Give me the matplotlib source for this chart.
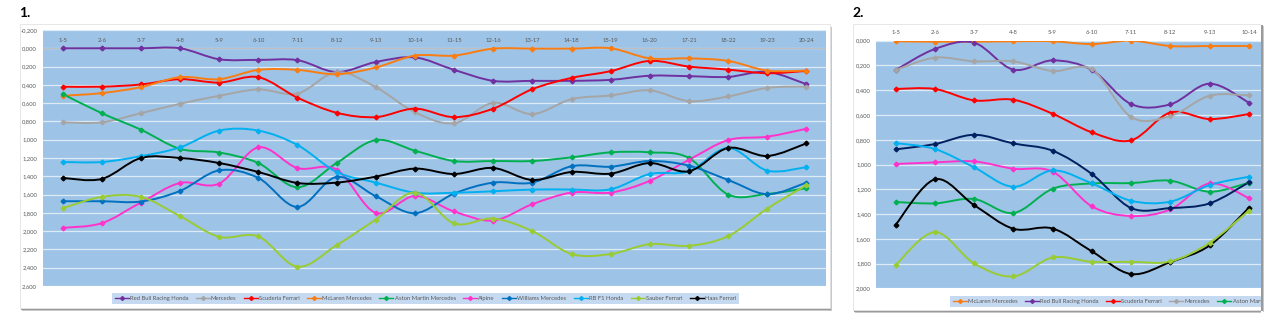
import numpy as np
import matplotlib
matplotlib.use("Agg")
import matplotlib.pyplot as plt
from matplotlib.path import Path
from matplotlib.patches import PathPatch, Rectangle
from matplotlib.lines import Line2D

plt.rcParams['font.family'] = ['Lato', 'DejaVu Sans']

# ---------------- data ----------------
cats1 = ["1-5", "2-6", "3-7", "4-8", "5-9", "6-10", "7-11", "8-12", "9-13", "10-14",
         "11-15", "12-16", "13-17", "14-18", "15-19", "16-20", "17-21", "18-22", "19-23", "20-24"]
cats2 = cats1[:10]

redbull_1 = [0.00, 0.00, 0.00, 0.00, 0.12, 0.127, 0.13, 0.26, 0.15, 0.10,
             0.236, 0.356, 0.356, 0.356, 0.345, 0.30, 0.305, 0.313, 0.258, 0.393]
mercedes_1 = [0.81, 0.81, 0.71, 0.607, 0.52, 0.45, 0.495, 0.26, 0.425, 0.70,
              0.82, 0.596, 0.72, 0.556, 0.516, 0.46, 0.578, 0.527, 0.433, 0.418]
ferrari_1 = [0.42, 0.42, 0.396, 0.338, 0.375, 0.316, 0.54, 0.705, 0.753, 0.66,
             0.753, 0.66, 0.447, 0.324, 0.25, 0.138, 0.20, 0.233, 0.273, 0.247]
mclaren_1 = [0.52, 0.49, 0.425, 0.316, 0.338, 0.236, 0.236, 0.284, 0.21, 0.08,
             0.08, 0.004, 0.004, 0.004, 0.0, 0.11, 0.11, 0.138, 0.244, 0.244]
aston_1 = [0.50, 0.71, 0.89, 1.10, 1.14, 1.255, 1.52, 1.255, 1.004, 1.12,
           1.233, 1.233, 1.233, 1.193, 1.138, 1.138, 1.20, 1.60, 1.593, 1.53]
alpine_1 = [1.964, 1.913, 1.687, 1.473, 1.48, 1.084, 1.31, 1.327, 1.80, 1.615,
            1.785, 1.884, 1.705, 1.578, 1.578, 1.45, 1.22, 1.004, 0.967, 0.88]
williams_1 = [1.673, 1.673, 1.676, 1.56, 1.335, 1.418, 1.735, 1.407, 1.618, 1.804,
              1.589, 1.469, 1.469, 1.29, 1.295, 1.233, 1.284, 1.44, 1.596, 1.469]
rbf1_1 = [1.244, 1.244, 1.18, 1.084, 0.90, 0.90, 1.058, 1.353, 1.469, 1.58,
          1.58, 1.564, 1.545, 1.545, 1.542, 1.375, 1.345, 1.09, 1.338, 1.30]
sauber_1 = [1.75, 1.625, 1.625, 1.836, 2.062, 2.058, 2.389, 2.153, 1.873, 1.578,
            1.916, 1.862, 2.0, 2.25, 2.25, 2.142, 2.16, 2.055, 1.753, 1.498]
haas_1 = [1.418, 1.429, 1.2, 1.2, 1.255, 1.353, 1.473, 1.469, 1.404, 1.316,
          1.375, 1.309, 1.44, 1.353, 1.371, 1.255, 1.345, 1.09, 1.178, 1.04]

mclaren_2 = [0.005, 0.008, 0.008, 0.005, 0.005, 0.027, 0.0, 0.043, 0.043, 0.043]
redbull_2 = [0.237, 0.067, 0.016, 0.234, 0.159, 0.237, 0.512, 0.514, 0.347, 0.50]
ferrari_2 = [0.39, 0.39, 0.482, 0.477, 0.59, 0.74, 0.805, 0.58, 0.633, 0.593]
mercedes_2 = [0.237, 0.137, 0.167, 0.167, 0.245, 0.232, 0.617, 0.609, 0.444, 0.442]
aston_2 = [1.303, 1.314, 1.279, 1.392, 1.196, 1.153, 1.15, 1.131, 1.22, 1.147]
alpine_2 = [0.996, 0.983, 0.975, 1.034, 1.058, 1.338, 1.416, 1.363, 1.153, 1.271]
williams_2 = [0.878, 0.835, 0.76, 0.83, 0.889, 1.077, 1.352, 1.352, 1.314, 1.144]
rbf1_2 = [0.827, 0.875, 1.023, 1.18, 1.048, 1.153, 1.293, 1.30, 1.166, 1.099]
haas_2 = [1.487, 1.12, 1.328, 1.519, 1.517, 1.702, 1.885, 1.788, 1.654, 1.35]
sauber_2 = [1.812, 1.546, 1.799, 1.904, 1.751, 1.786, 1.786, 1.783, 1.632, 1.373]

series_1 = [
    ("Red Bull Racing Honda", redbull_1, "#7030A0"),
    ("Mercedes", mercedes_1, "#A5A5A5"),
    ("Scuderia Ferrari", ferrari_1, "#FF0000"),
    ("McLaren Mercedes", mclaren_1, "#F97D12"),
    ("Aston Martin Mercedes", aston_1, "#00B050"),
    ("Alpine", alpine_1, "#FF33CC"),
    ("Williams Mercedes", williams_1, "#0070C0"),
    ("RB F1 Honda", rbf1_1, "#00B0F0"),
    ("Sauber Ferrari", sauber_1, "#99CC33"),
    ("Haas Ferrari", haas_1, "#000000"),
]
series_2 = [
    ("McLaren Mercedes", mclaren_2, "#F97D12"),
    ("Red Bull Racing Honda", redbull_2, "#7030A0"),
    ("Scuderia Ferrari", ferrari_2, "#FF0000"),
    ("Mercedes", mercedes_2, "#A5A5A5"),
    ("Aston Martin Mercedes", aston_2, "#00B050"),
    ("Alpine", alpine_2, "#FF33CC"),
    ("Williams Mercedes", williams_2, "#002060"),
    ("RB F1 Honda", rbf1_2, "#00B0F0"),
    ("Haas Ferrari", haas_2, "#000000"),
    ("Sauber Ferrari", sauber_2, "#99CC33"),
]
# entries of the second legend that fit inside its card
LEGEND2_SHOWN = 5

# ---------------- styling ----------------
W, H = 1280, 330
PLOT_BG = "#9DC3E6"
GRID = "#DDEBF7"
LEGEND_BG = "#C5D9F1"
TXT = "#595959"
FS = 4.2
LEG_KW = dict(fontsize=FS, frameon=True, facecolor=LEGEND_BG, edgecolor="none",
              fancybox=False, framealpha=1, handlelength=2.4, handletextpad=0.2,
              borderpad=0.45, labelcolor=TXT)


def fx(px):
    return px / W


def fy(py):
    return 1 - py / H


def frect(x0, y0, x1, y1):
    return [fx(x0), fy(y1), (x1 - x0) / W, (y1 - y0) / H]


def smooth_path(xs, ys):
    pts = np.column_stack([xs, ys]).astype(float)
    n = len(pts)
    verts, codes = [pts[0]], [Path.MOVETO]
    for i in range(n - 1):
        p0, p1 = pts[max(i - 1, 0)], pts[i]
        p2, p3 = pts[i + 1], pts[min(i + 2, n - 1)]
        verts += [p1 + (p2 - p0) / 6, p2 - (p3 - p1) / 6, p2]
        codes += [Path.CURVE4] * 3
    return Path(verts, codes)


def fmt(v):
    return f"{v:.3f}".replace(".", ",")


def card(x0, y0, x1, y1):
    fig.add_artist(Rectangle((fx(x0 + 2), fy(y1 + 3)), (x1 - x0) / W, (y1 - y0) / H,
                             transform=fig.transFigure, facecolor="#C8C8C8",
                             edgecolor="none", zorder=-3))
    fig.add_artist(Rectangle((fx(x0 + 1), fy(y1 + 1.5)), (x1 - x0) / W, (y1 - y0) / H,
                             transform=fig.transFigure, facecolor="#9A9A9A",
                             edgecolor="none", zorder=-2))
    fig.add_artist(Rectangle((fx(x0), fy(y1)), (x1 - x0) / W, (y1 - y0) / H,
                             transform=fig.transFigure, facecolor="white",
                             edgecolor="#E3E3E3", linewidth=0.6, zorder=-1))


def draw_series(ax, series):
    handles = []
    for name, vals, col in series:
        x = np.arange(len(vals))
        ax.add_patch(PathPatch(smooth_path(x, vals), facecolor="none",
                               edgecolor=col, linewidth=1.4, zorder=3))
        ax.plot(x, vals, linestyle="none", marker="D", markersize=2.4,
                color=col, zorder=4)
        handles.append(Line2D([], [], color=col, linewidth=1.0, marker="D",
                              markersize=2.0, label=name))
    return handles


def style_axes(ax, ymin, ymax):
    ax.set_facecolor(PLOT_BG)
    ax.set_ylim(ymax, ymin)
    for s in ax.spines.values():
        s.set_visible(False)
    ticks = np.round(np.arange(ymin, ymax + 1e-9, 0.2), 3)
    ax.set_yticks(ticks)
    ax.set_yticklabels([fmt(t) for t in ticks])
    ax.tick_params(axis="y", length=0, labelsize=FS, labelcolor=TXT)
    for t in ticks:
        ax.axhline(t, color=GRID, linewidth=0.9, zorder=1)


fig = plt.figure(figsize=(W / 100, H / 100), dpi=100)
fig.patch.set_facecolor("white")

# ---------------- chart 1 ----------------
card(20, 24, 830, 308)
fig.text(fx(19), fy(17), "1.", fontsize=10, fontweight="bold", color="black",
         va="baseline", ha="left")

ax1 = fig.add_axes(frect(43, 30, 826, 286))
style_axes(ax1, -0.2, 2.6)
ax1.tick_params(axis="y", pad=4.2)
ax1.set_xlim(-0.5, len(cats1) - 0.5)
ax1.set_xticks([])
ax1.axhline(0, color="#BFBFBF", linewidth=0.8, zorder=2)
for i, c in enumerate(cats1):
    ax1.text(i, -0.085, c, ha="center", va="center", fontsize=FS, color=TXT, zorder=5)
h1 = draw_series(ax1, series_1)

# legend 1: choose the column spacing so the box spans 112..739 px
leg_w_target = 739 - 112
cs = 1.0
renderer = fig.canvas.get_renderer()
for _ in range(3):
    leg1 = fig.legend(handles=h1, loc="center", ncol=10,
                      bbox_to_anchor=(fx(425.5), fy(298.5)), columnspacing=cs, **LEG_KW)
    w = leg1.get_window_extent(renderer).width
    leg1.remove()
    em_px = FS * 100 / 72
    cs = cs + (leg_w_target - w) / 9 / em_px
leg1 = fig.legend(handles=h1, loc="center", ncol=10,
                  bbox_to_anchor=(fx(425.5), fy(298.5)), columnspacing=cs, **LEG_KW)

# ---------------- chart 2 ----------------
card(853, 24, 1261, 310)
fig.text(fx(852), fy(17), "2.", fontsize=10, fontweight="bold", color="black",
         va="baseline", ha="left")

ax2 = fig.add_axes(frect(876, 40.7, 1261, 288.3))
style_axes(ax2, 0.0, 2.0)
ax2.tick_params(axis="y", pad=3.6)
ax2.set_xlim(-0.5, -0.5 + (1261 - 876) / 39.25)
ax2.xaxis.tick_top()
ax2.set_xticks(range(len(cats2)))
ax2.set_xticklabels(cats2)
ax2.tick_params(axis="x", length=0, pad=4.0, labelsize=FS, labelcolor=TXT)
h2 = draw_series(ax2, series_2)

fig.legend(handles=h2[:LEGEND2_SHOWN], loc="center left", ncol=LEGEND2_SHOWN,
           bbox_to_anchor=(fx(947), fy(301.5)), columnspacing=cs, **LEG_KW)

# right border of the second card, drawn over anything running past it
cover = fig.add_axes(frect(1261, 0, 1280, 330))
cover.set_zorder(20)
cover.set_facecolor("white")
cover.set_xticks([])
cover.set_yticks([])
for s in cover.spines.values():
    s.set_visible(False)
cover.set_xlim(0, 19)
cover.set_ylim(330, 0)
cover.add_patch(Rectangle((0, 25), 1.5, 286, facecolor="#9A9A9A", edgecolor="none"))
cover.add_patch(Rectangle((1.5, 26), 1.5, 286, facecolor="#C8C8C8", edgecolor="none"))

fig.savefig("out.png", dpi=100, facecolor="white")
